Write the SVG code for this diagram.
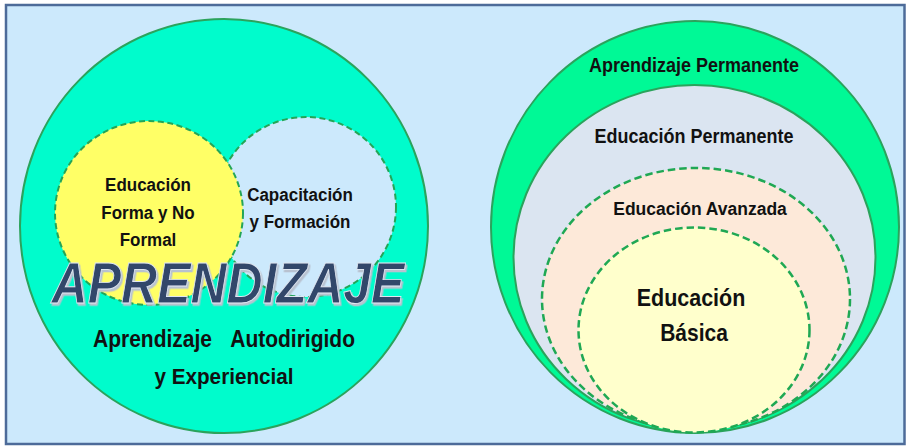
<svg xmlns="http://www.w3.org/2000/svg" width="908" height="446" viewBox="0 0 908 446">
<style>
.t{font-family:"Liberation Sans",Arial,sans-serif;font-weight:bold;fill:#111;text-anchor:middle}
.solid{stroke:#2ba35c;stroke-width:2}
.dash{stroke:#24a557;stroke-width:2;stroke-dasharray:6 3.5}
.dash2{stroke:#1fa854;stroke-width:2.5;stroke-dasharray:7.5 4}
.big{font-family:"Liberation Sans",Arial,sans-serif;font-weight:bold;font-style:italic;font-size:50px;text-anchor:middle}
</style>
<defs>
  <filter id="emboss" x="-5%" y="-20%" width="110%" height="150%">
    <feDropShadow dx="1.5" dy="2" stdDeviation="0.6" flood-color="#b8c2d0" flood-opacity="1"/>
  </filter>
</defs>
<rect x="0" y="0" width="908" height="446" fill="#ffffff"/>
<rect id="frame" x="6" y="5" width="898.5" height="439" fill="#cce9fc" stroke="#4d6b99" stroke-width="2.5"/>

<g id="aprendizaje">
  <ellipse cx="224" cy="226" rx="204" ry="207" fill="#00fccc" class="solid"/>
</g>
<g id="capacitacion">
  <circle cx="306" cy="207" r="90" fill="#cce9fc" class="dash"/>
  <text class="t" font-size="17" transform="translate(300 201) scale(1 1.12)">Capacitación</text>
  <text class="t" font-size="17" transform="translate(300 228) scale(1 1.12)">y Formación</text>
</g>
<g id="educacion-formal">
  <ellipse cx="149" cy="213" rx="94" ry="92" fill="#ffff66" class="dash"/>
  <text class="t" font-size="17" transform="translate(148 191) scale(1 1.12)">Educación</text>
  <text class="t" font-size="17" transform="translate(148 219) scale(1 1.12)">Forma y No</text>
  <text class="t" font-size="17" transform="translate(148 246) scale(1 1.12)">Formal</text>
</g>
<g id="autodirigido">
  <text class="t" font-size="21" style="text-anchor:start" transform="translate(93 347) scale(1 1.1)">Aprendizaje</text>
  <text class="t" font-size="21" style="text-anchor:end" transform="translate(355 347) scale(1 1.1)">Autodirigido</text>
  <text class="t" font-size="20.7" transform="translate(224 384) scale(1 1.1)">y Experiencial</text>
</g>
<g id="aprendizaje-title">
  <text class="big" fill="#33466a" stroke="#dfe7f1" stroke-width="0.8" filter="url(#emboss)" transform="translate(228 303) scale(1 1.15)">APRENDIZAJE</text>
</g>

<g id="aprendizaje-permanente">
  <ellipse cx="695" cy="227" rx="204" ry="206" fill="#00f996" class="solid"/>
  <text class="t" font-size="18" transform="translate(694 72) scale(1 1.1)">Aprendizaje Permanente</text>
</g>
<g id="educacion-permanente">
  <ellipse cx="694.5" cy="257.5" rx="181" ry="172.5" fill="#dbe5f1" class="solid"/>
  <text class="t" font-size="18" transform="translate(694 143) scale(1 1.1)">Educación Permanente</text>
</g>
<g id="educacion-avanzada">
  <ellipse cx="696" cy="299" rx="154" ry="131" fill="#fde9d9" class="dash2"/>
  <text class="t" font-size="17.5" transform="translate(700 215) scale(1 1.1)">Educación Avanzada</text>
</g>
<g id="educacion-basica">
  <ellipse cx="694" cy="330" rx="115.5" ry="102.5" fill="#ffffcc" class="dash2"/>
  <text class="t" font-size="21.5" transform="translate(691 306) scale(1 1.15)">Educación</text>
  <text class="t" font-size="21" transform="translate(694 341) scale(1 1.15)">Básica</text>
</g>
</svg>
